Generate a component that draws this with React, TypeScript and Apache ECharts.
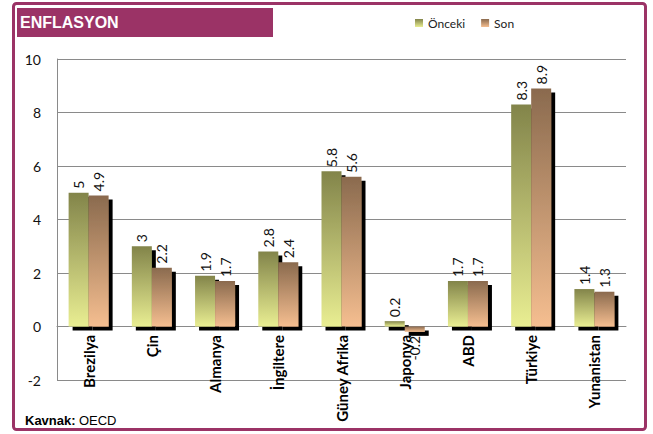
import React, { useEffect, useRef } from "react";
import * as echarts from "echarts";

const categories = ["Brezilya", "Çin", "Almanya", "İngiltere", "Güney Afrika", "Japonya", "ABD", "Türkiye", "Yunanistan"];
const oncekiValues = [5, 3, 1.9, 2.8, 5.8, 0.2, 1.7, 8.3, 1.4];
const sonValues = [4.9, 2.2, 1.7, 2.4, 5.6, -0.2, 1.7, 8.9, 1.3];
const seriesNames = ["Önceki", "Son"];
const yTicks = { min: -2, max: 10, interval: 2 };
const titleText = "ENFLASYON";
const sourceLabel = "Kavnak:";
const sourceName = "OECD";

const MAROON = "#9B3366";
const FONT = "Lato, 'Open Sans', sans-serif";

function grad(top: string, bottom: string) {
  return new echarts.graphic.LinearGradient(0, 0, 0, 1, [
    { offset: 0, color: top },
    { offset: 1, color: bottom },
  ]);
}

function makeData(values: number[]) {
  return values.map((v) =>
    v < 0
      ? { value: v, label: { position: "bottom", align: "right" } }
      : { value: v }
  );
}

export default function App() {
  const ref = useRef<HTMLDivElement>(null);
  useEffect(() => {
    if (!ref.current) return;
    const chart = echarts.init(ref.current, null, { renderer: "svg" });
    const labelCfg = {
      show: true,
      position: "top",
      rotate: 90,
      align: "left",
      verticalAlign: "middle",
      distance: 4,
      fontSize: 14,
      fontFamily: FONT,
      color: "#111",
    };
    const shadow = {
      shadowColor: "#000",
      shadowOffsetX: 4,
      shadowOffsetY: 4,
      shadowBlur: 0,
    };
    chart.setOption({
      animation: false,
      backgroundColor: "#fff",
      grid: { left: 57, right: 27, top: 59, bottom: 54, outerBoundsMode: "none", containLabel: false },
      legend: {
        left: 410,
        top: 12,
        itemWidth: 8,
        itemHeight: 8,
        itemGap: 16,
        icon: "rect",
        textStyle: { fontSize: 12, fontFamily: FONT, color: "#222" },
        data: seriesNames,
      },
      xAxis: {
        type: "category",
        data: categories,
        axisLine: { show: true, onZero: true, lineStyle: { color: "#8a8a8a", width: 1 } },
        axisTick: { show: false },
        axisLabel: {
          rotate: 90,
          margin: -45,
          fontSize: 15,
          fontWeight: "bold",
          fontFamily: FONT,
          color: "#000",
          interval: 0,
        },
      },
      yAxis: {
        type: "value",
        min: yTicks.min,
        max: yTicks.max,
        interval: yTicks.interval,
        axisLine: { show: true, lineStyle: { color: "#8a8a8a", width: 1 } },
        axisTick: { show: false },
        splitLine: { show: true, lineStyle: { color: "#8a8a8a", width: 1 } },
        axisLabel: { fontSize: 14, fontFamily: FONT, color: "#111", margin: 16 },
      },
      series: [
        {
          name: seriesNames[0],
          type: "bar",
          barWidth: 20,
          barGap: "0%",
          data: makeData(oncekiValues),
          itemStyle: { color: grad("#82844A", "#E9EE92"), ...shadow },
          label: labelCfg,
        },
        {
          name: seriesNames[1],
          type: "bar",
          barWidth: 20,
          barGap: "0%",
          data: makeData(sonValues),
          itemStyle: { color: grad("#8A6A4E", "#F5BE90"), ...shadow },
          label: labelCfg,
        },
      ],
      graphic: [
        {
          type: "rect",
          shape: { x: 13.5, y: 3.5, width: 632, height: 426, r: 3 },
          style: { fill: "none", stroke: MAROON, lineWidth: 3 },
          silent: true,
        },
        {
          type: "rect",
          shape: { x: 17, y: 8, width: 256, height: 29 },
          style: { fill: MAROON },
          silent: true,
        },
        {
          type: "text",
          x: 20,
          y: 22.5,
          style: {
            text: titleText,
            fill: "#fff",
            font: "bold 16px Arial, 'Liberation Sans', sans-serif",
            verticalAlign: "middle",
          },
          silent: true,
        },
        {
          type: "text",
          x: 25,
          y: 420,
          style: {
            text: "{b|" + sourceLabel + "} {n|" + sourceName + "}",
            verticalAlign: "middle",
            rich: {
              b: { font: "bold 13px Arial, 'Liberation Sans', sans-serif", fill: "#000" },
              n: { font: "13px Arial, 'Liberation Sans', sans-serif", fill: "#000" },
            },
          },
          silent: true,
        },
      ],
    });
    return () => chart.dispose();
  }, []);
  return (
    <div
      ref={ref}
      style={{ position: "fixed", left: 0, top: 0, width: 653, height: 434 }}
    />
  );
}
